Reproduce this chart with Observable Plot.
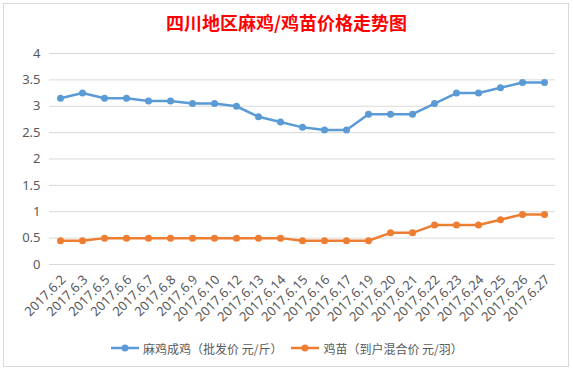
<!DOCTYPE html>
<html>
<head>
<meta charset="utf-8">
<script src="https://cdn.jsdelivr.net/npm/d3@7"></script>
<script src="https://cdn.jsdelivr.net/npm/@observablehq/plot@0.6"></script>
<style>
  html, body { margin: 0; padding: 0; background: #fff; }
  body { width: 573px; height: 371px; position: relative; overflow: hidden;
         font-family: "Noto Sans", "Noto Sans CJK SC", sans-serif; }
  .frame { position: absolute; left: 3px; top: 3px; width: 566px; height: 364px;
           border: 1px solid #d9d9d9; box-sizing: border-box; }
  .title { position: absolute; top: 9px; left: 0; width: 573px; text-align: center;
           font-family: "Noto Sans CJK SC", sans-serif; font-weight: bold; font-size: 18px;
           line-height: 26px; color: #ff0000; }
  #chart { position: absolute; left: 0; top: 40px; }
  .legend { position: absolute; top: 338px; left: 111px; height: 20px; display: flex;
            align-items: center; font-family: "Noto Sans CJK SC", sans-serif;
            font-size: 12px; color: #595959; white-space: nowrap; }
  .legend .item { display: flex; align-items: center; }
  .legend svg { margin-right: 4px; }
</style>
</head>
<body>
<div class="frame"></div>
<div class="title">四川地区麻鸡/鸡苗价格走势图</div>
<div id="chart"></div>
<div class="legend" id="legend"></div>
<script>
const dates = ["2017.6.2","2017.6.3","2017.6.5","2017.6.6","2017.6.7","2017.6.8","2017.6.9","2017.6.10",
  "2017.6.12","2017.6.13","2017.6.14","2017.6.15","2017.6.16","2017.6.17","2017.6.19","2017.6.20",
  "2017.6.21","2017.6.22","2017.6.23","2017.6.24","2017.6.25","2017.6.26","2017.6.27"];
const broiler = [3.15,3.25,3.15,3.15,3.1,3.1,3.05,3.05,3.0,2.8,2.7,2.6,2.55,2.55,2.85,2.85,2.85,3.05,3.25,3.25,3.35,3.45,3.45];
const chick   = [0.45,0.45,0.5,0.5,0.5,0.5,0.5,0.5,0.5,0.5,0.5,0.45,0.45,0.45,0.45,0.6,0.6,0.75,0.75,0.75,0.85,0.95,0.95];
const yTicks = [0,0.5,1,1.5,2,2.5,3,3.5,4];
const seriesNames = ["麻鸡成鸡（批发价 元/斤）", "鸡苗（到户混合价 元/羽）"];
const colors = ["#5B9BD5", "#ED7D31"];

const rows = dates.map((d, i) => ({date: d, broiler: broiler[i], chick: chick[i]}));

const chart = Plot.plot({
  width: 573,
  height: 290,
  marginTop: 13,
  marginBottom: 66,
  marginLeft: 49,
  marginRight: 18,
  style: {fontFamily: "'Noto Sans', 'Noto Sans CJK SC', sans-serif", fontSize: "13px", color: "#595959", background: "transparent", overflow: "visible"},
  x: {type: "point", domain: dates, padding: 0.5, label: null},
  y: {domain: [0, 4], label: null},
  marks: [
    Plot.gridY(yTicks, {stroke: "#d9d9d9", strokeOpacity: 1, strokeWidth: 1}),
    Plot.axisY(yTicks, {tickSize: 0, tickPadding: 9, tickFormat: d => String(d), fill: "#595959", fontSize: 13, label: null}),
    Plot.axisX({tickSize: 0, tickPadding: 13, tickRotate: -45, dx: 3, fill: "#595959", fontSize: 13, label: null}),
    Plot.line(rows, {x: "date", y: "broiler", stroke: colors[0], strokeWidth: 2.5}),
    Plot.dot(rows, {x: "date", y: "broiler", fill: colors[0], r: 3.5}),
    Plot.line(rows, {x: "date", y: "chick", stroke: colors[1], strokeWidth: 2.5}),
    Plot.dot(rows, {x: "date", y: "chick", fill: colors[1], r: 3.5})
  ]
});
document.getElementById("chart").appendChild(chart);

const legend = document.getElementById("legend");
seriesNames.forEach((name, i) => {
  const item = document.createElement("div");
  item.className = "item";
  if (i > 0) item.style.marginLeft = "9px";
  item.innerHTML = `<svg width="28" height="10"><line x1="0" y1="5" x2="28" y2="5" stroke="${colors[i]}" stroke-width="2.5"/><circle cx="14" cy="5" r="3.5" fill="${colors[i]}"/></svg><span>${name}</span>`;
  legend.appendChild(item);
});
</script>
</body>
</html>
